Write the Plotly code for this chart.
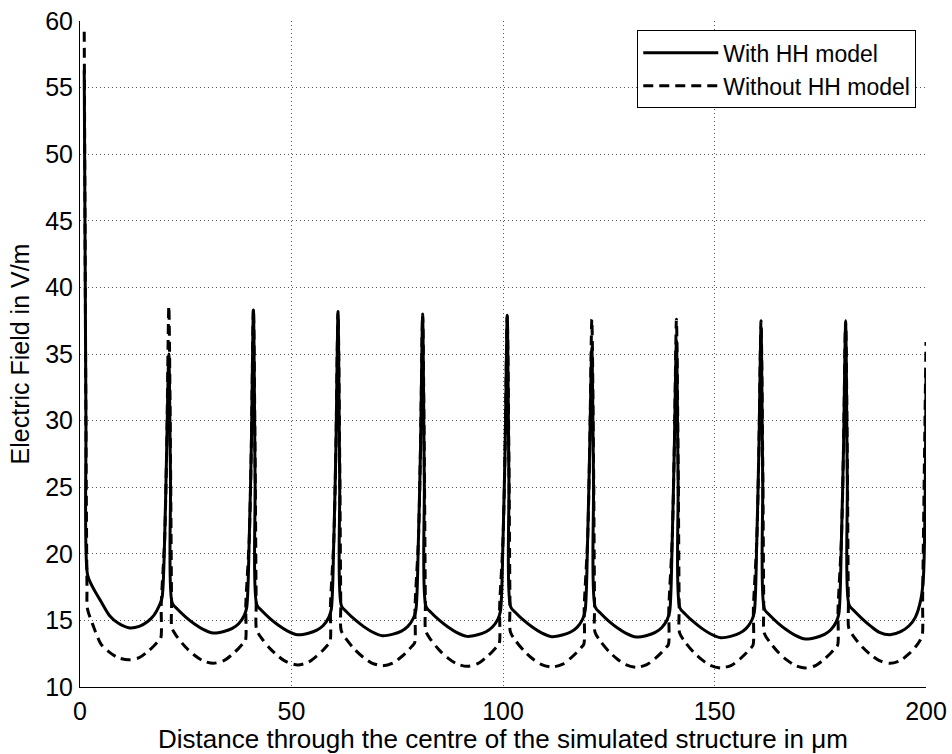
import plotly.graph_objects as go

# Spike (membrane) positions: each cell starts at a spike
cell_starts = [1, 21, 41, 61, 81, 101, 121, 141, 161, 181]

# x offsets (µm) within a cell, measured from the spike at the cell start
solid_offsets = [0, 0.4, 0.8, 2, 4, 6, 8, 10.5, 13, 15, 16.5, 17.8, 18.4, 19.0, 19.5]
dashed_offsets = [0, 0.4, 0.65, 0.75, 2, 4, 6, 8, 10.5, 13, 15, 16.5, 17.5, 18.1, 18.2, 19.0, 19.5]

# With HH model (solid), V/m, one list per cell
with_hh = [
    [56.3, 30.0, 18.4, 17.5, 16.4, 15.35, 14.8, 14.45, 14.55, 14.92, 15.4, 16.15, 16.7, 21.0, 28.0],
    [35.0, 25.5, 16.3, 15.85, 15.25, 14.75, 14.35, 14.05, 14.17, 14.4, 14.75, 15.35, 15.95, 21.0, 28.0],
    [38.3, 25.5, 16.17, 15.72, 15.12, 14.62, 14.22, 13.92, 14.04, 14.27, 14.62, 15.22, 15.82, 21.0, 28.0],
    [38.0, 25.5, 16.1, 15.65, 15.05, 14.55, 14.15, 13.85, 13.97, 14.2, 14.55, 15.15, 15.75, 21.0, 28.0],
    [37.8, 25.5, 16.05, 15.6, 15.0, 14.5, 14.1, 13.8, 13.92, 14.15, 14.5, 15.1, 15.7, 21.0, 28.0],
    [37.8, 25.5, 16.03, 15.58, 14.98, 14.48, 14.08, 13.78, 13.9, 14.13, 14.48, 15.08, 15.68, 21.0, 28.0],
    [35.5, 25.5, 16.0, 15.55, 14.95, 14.45, 14.05, 13.75, 13.87, 14.1, 14.45, 15.05, 15.65, 21.0, 28.0],
    [36.0, 25.5, 15.95, 15.5, 14.9, 14.4, 14.0, 13.7, 13.82, 14.05, 14.4, 15.0, 15.6, 21.0, 28.0],
    [37.0, 25.5, 15.85, 15.4, 14.8, 14.3, 13.9, 13.6, 13.72, 13.95, 14.3, 14.9, 15.5, 21.0, 28.0],
    [37.3, 25.5, 16.17, 15.72, 15.1, 14.55, 14.1, 13.92, 14.15, 14.6, 15.25, 16.6, 18.3, 33.5],
]

# Without HH model (dashed), V/m, one list per cell
without_hh = [
    [59.2, 30.0, 17.5, 15.9, 14.7, 13.2, 12.6, 12.2, 12.04, 12.2, 12.66, 13.1, 13.45, 13.7, 16.2, 21.0, 28.0],
    [38.6, 27.0, 16.3, 14.42, 13.75, 12.98, 12.4, 11.98, 11.78, 11.98, 12.45, 12.9, 13.25, 13.48, 16.2, 21.0, 28.0],
    [38.4, 27.0, 16.3, 14.3, 13.63, 12.86, 12.28, 11.86, 11.66, 11.86, 12.33, 12.78, 13.13, 13.36, 16.1, 21.0, 28.0],
    [38.2, 27.0, 16.2, 14.24, 13.57, 12.8, 12.22, 11.8, 11.6, 11.8, 12.27, 12.72, 13.07, 13.3, 16.0, 21.0, 28.0],
    [38.0, 27.0, 16.2, 14.19, 13.52, 12.75, 12.17, 11.75, 11.55, 11.75, 12.22, 12.67, 13.02, 13.25, 16.0, 21.0, 28.0],
    [37.9, 27.0, 16.2, 14.14, 13.47, 12.7, 12.12, 11.7, 11.5, 11.7, 12.17, 12.62, 12.97, 13.2, 16.0, 21.0, 28.0],
    [37.6, 27.0, 16.1, 14.12, 13.45, 12.68, 12.1, 11.68, 11.48, 11.68, 12.15, 12.6, 12.95, 13.18, 15.9, 21.0, 28.0],
    [37.6, 27.0, 16.1, 14.07, 13.4, 12.63, 12.05, 11.63, 11.43, 11.63, 12.1, 12.55, 12.9, 13.13, 15.9, 21.0, 28.0],
    [37.5, 27.0, 16.0, 14.07, 13.4, 12.63, 12.05, 11.63, 11.43, 11.63, 12.1, 12.55, 12.9, 13.13, 15.8, 21.0, 28.0],
    [37.5, 27.0, 16.1, 14.42, 13.75, 12.98, 12.4, 11.98, 11.78, 12.0, 12.5, 13.0, 13.45, 13.85, 16.5, 35.9],
]

x_ticks = [0, 50, 100, 150, 200]
y_ticks = [10, 15, 20, 25, 30, 35, 40, 45, 50, 55, 60]


def assemble(offsets, cells):
    xs, ys = [], []
    for start, vals in zip(cell_starts, cells):
        for off, v in zip(offsets, vals):
            xs.append(start + off)
            ys.append(v)
    return xs, ys


xs_s, ys_s = assemble(solid_offsets, with_hh)
xs_d, ys_d = assemble(dashed_offsets, without_hh)

FONT = "Liberation Sans, Arial, sans-serif"

fig = go.Figure()
fig.add_trace(go.Scatter(x=xs_s, y=ys_s, mode="lines", name="With HH model",
                         line=dict(color="black", width=3, dash="solid",
                                   shape="spline", smoothing=0.8)))
fig.add_trace(go.Scatter(x=xs_d, y=ys_d, mode="lines", name="Without HH model",
                         line=dict(color="black", width=3, dash="10px,6px",
                                   shape="spline", smoothing=0.8)))

fig.update_layout(
    width=952, height=754,
    margin=dict(l=80, r=26, t=21, b=67, autoexpand=False),
    paper_bgcolor="white", plot_bgcolor="white",
    font=dict(family=FONT, size=24, color="black"),
    showlegend=True,
    legend=dict(x=0.9885, y=0.986, xanchor="right", yanchor="top",
                bgcolor="white", bordercolor="black", borderwidth=1,
                font=dict(family=FONT, size=23, color="black"),
                tracegroupgap=0, itemwidth=75),
)
fig.update_xaxes(
    range=[0, 200], tickvals=x_ticks, ticktext=[str(v) for v in x_ticks],
    showline=True, linecolor="black", linewidth=1, mirror=False,
    showgrid=True, gridcolor="#555", griddash="1px,3px", gridwidth=1,
    zeroline=False, ticks="", ticklabelstandoff=2, automargin=False,
    tickfont=dict(family=FONT, size=25),
    title=dict(text="Distance through the centre of the simulated structure in μm",
               font=dict(family=FONT, size=26), standoff=0),
)
fig.update_yaxes(
    range=[10, 60], tickvals=y_ticks, ticktext=[str(v) for v in y_ticks],
    showline=True, linecolor="black", linewidth=1, mirror=False,
    showgrid=True, gridcolor="#555", griddash="1px,3px", gridwidth=1,
    zeroline=False, ticks="", ticklabelstandoff=1, automargin=False,
    tickfont=dict(family=FONT, size=25),
    title=dict(text="Electric Field in V/m", font=dict(family=FONT, size=25), standoff=8),
)

fig.write_html("out.html")
